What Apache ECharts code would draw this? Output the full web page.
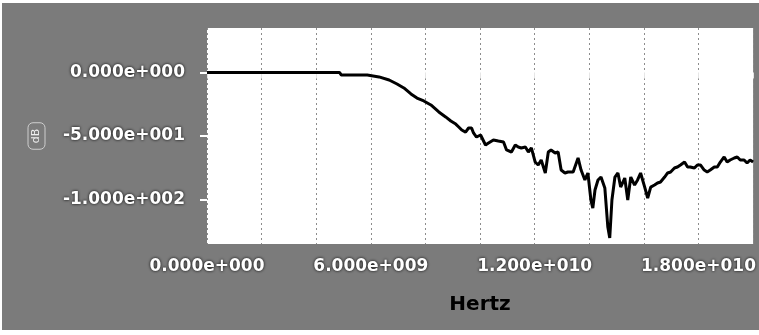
<!DOCTYPE html>
<html>
<head>
<meta charset="utf-8">
<script src="https://cdn.jsdelivr.net/npm/echarts@6/dist/echarts.min.js"></script>
<style>
  html, body { margin: 0; padding: 0; background: #ffffff; }
  #chart { width: 759px; height: 335px; }
</style>
</head>
<body>
<div id="chart"></div>
<script>
// Frequency sweep (GHz) and measured response (dB)
const freqGHz = [
  0, 4.85, 4.92, 5.87, 5.94, 6.30, 6.67, 6.96, 7.21, 7.47, 7.69, 7.94, 8.20, 8.49, 8.74,
  8.93, 9.11, 9.22, 9.33, 9.47, 9.58, 9.69, 9.76, 9.87, 10.02, 10.20, 10.31, 10.49, 10.67,
  10.86, 10.97, 11.15, 11.29, 11.40, 11.51, 11.66, 11.77, 11.88, 12.02, 12.13, 12.24, 12.39,
  12.50, 12.60, 12.75, 12.86, 12.97, 13.11, 13.22, 13.41, 13.59, 13.70, 13.84, 13.95, 14.06,
  14.13, 14.21, 14.32, 14.43, 14.57, 14.68, 14.75, 14.83, 14.94, 15.05, 15.15, 15.30, 15.41,
  15.52, 15.66, 15.77, 15.88, 16.03, 16.14, 16.25, 16.39, 16.50, 16.61, 16.76, 16.87, 16.98,
  17.12, 17.23, 17.34, 17.49, 17.60, 17.70, 17.85, 17.96, 18.07, 18.21, 18.32, 18.43, 18.58,
  18.69, 18.80, 18.94, 19.05, 19.16, 19.31, 19.42, 19.53, 19.67, 19.78, 19.89, 20.00
];
const responseDb = [
  0, 0, -2, -2, -2.8, -3.5, -5.9, -9.1, -12.2, -16.9, -20.1, -22.4, -25.6, -31.1, -35.0,
  -38.2, -40.6, -42.9, -45.3, -46.9, -43.7, -43.7, -47.6, -50.8, -49.2, -57.1, -55.5, -53.1, -53.9,
  -54.7, -61.0, -62.6, -57.1, -58.7, -59.4, -58.7, -62.6, -59.4, -70.5, -72.8, -68.9, -79.1,
  -62.6, -61.0, -63.4, -62.6, -76.8, -79.1, -78.3, -78.3, -67.3, -76.8, -84.6, -79.1, -100.4,
  -106.7, -92.5, -84.6, -82.3, -90.9, -121.7, -130.3, -100.4, -82.3, -79.1, -90.2, -83.1, -100.4,
  -82.3, -88.6, -84.6, -79.1, -90.2, -98.8, -90.2, -88.6, -87.0, -86.2, -82.3, -79.1, -78.3,
  -75.2, -74.4, -72.8, -70.5, -74.4, -74.4, -75.2, -72.8, -72.8, -76.8, -78.3, -76.8, -74.4,
  -74.4, -70.5, -66.5, -70.5, -68.9, -67.3, -66.5, -68.9, -68.9, -71.3, -68.9, -70.5
];

// Axis tick labels
const xTickValues = [0, 6e9, 1.2e10, 1.8e10];
const xTickLabels = ['0.000e+000', '6.000e+009', '1.200e+010', '1.800e+010'];
const yTickValues = [0, -50, -100];
const yTickLabels = ['0.000e+000', '-5.000e+001', '-1.000e+002'];

const points = freqGHz.map((f, i) => [f * 1e9, responseDb[i]]);

const labelStyle = {
  color: '#ffffff',
  fontFamily: 'DejaVu Sans',
  fontWeight: 'bold',
  fontSize: 17,
  textShadowColor: '#000000',
  textShadowBlur: 3
};

const chart = echarts.init(document.getElementById('chart'), null, { renderer: 'canvas' });
chart.setOption({
  animation: false,
  backgroundColor: '#ffffff',
  graphic: [{
    type: 'rect',
    z: -10,
    shape: { x: 2, y: 3, width: 757, height: 327 },
    style: { fill: '#7b7b7b' }
  }],
  grid: {
    left: 207, right: 3, top: 28, bottom: 91,
    show: true, backgroundColor: '#ffffff', borderWidth: 0
  },
  xAxis: {
    type: 'value',
    min: 0,
    max: 2e10,
    interval: 2e9,
    name: 'Hertz',
    nameLocation: 'middle',
    nameGap: 51,
    nameTextStyle: {
      color: '#000000', fontFamily: 'DejaVu Sans', fontWeight: 'bold', fontSize: 20
    },
    axisLine: { show: false },
    axisTick: { show: true, length: 6, lineStyle: { color: '#e6e6e6', width: 1 } },
    axisLabel: Object.assign({}, labelStyle, {
      margin: 14,
      formatter: function (v) {
        const i = xTickValues.indexOf(v);
        return i >= 0 ? xTickLabels[i] : '';
      }
    }),
    splitLine: {
      show: true,
      lineStyle: { color: '#8c8c8c', width: 1, type: [2, 3] }
    }
  },
  yAxis: {
    type: 'value',
    min: -135,
    max: 35,
    name: 'dB',
    nameLocation: 'middle',
    nameRotate: 90,
    nameGap: 162,
    nameTextStyle: {
      color: '#eeeeee', fontFamily: 'DejaVu Sans', fontSize: 11,
      borderColor: '#cfcfcf', borderWidth: 1, borderRadius: 5, padding: [3, 6]
    },
    axisLine: { show: false },
    axisTick: {
      show: true, length: 7, customValues: yTickValues,
      lineStyle: { color: '#ffffff', width: 2 }
    },
    axisLabel: Object.assign({}, labelStyle, {
      margin: 22,
      customValues: yTickValues,
      formatter: function (v) {
        const i = yTickValues.indexOf(v);
        return i >= 0 ? yTickLabels[i] : '';
      }
    }),
    splitLine: { show: false }
  },
  series: [{
    type: 'line',
    data: points,
    symbol: 'none',
    lineStyle: { color: '#000000', width: 3 },
    clip: true
  }]
});
</script>
</body>
</html>
